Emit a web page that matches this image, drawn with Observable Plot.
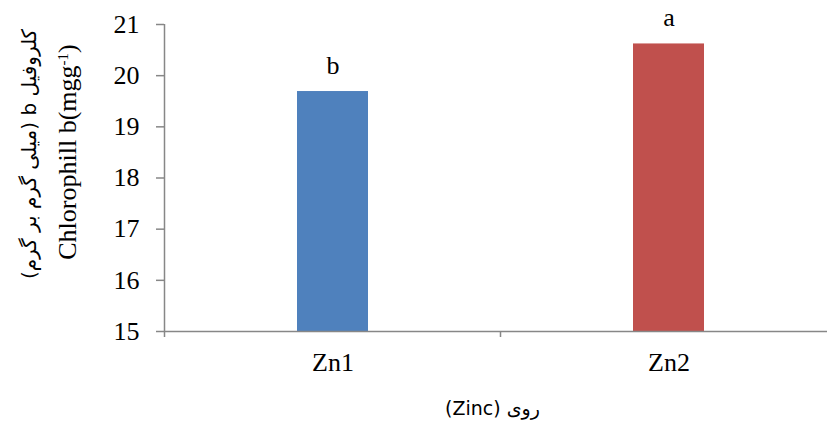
<!DOCTYPE html>
<html>
<head>
<meta charset="utf-8">
<script src="https://cdn.jsdelivr.net/npm/d3@7"></script>
<script src="https://cdn.jsdelivr.net/npm/@observablehq/plot@0.6"></script>
<style>
  html, body { margin: 0; padding: 0; background: #fff; overflow: hidden; }
</style>
</head>
<body>
<div id="chart"></div>
<script>
const categories = ["Zn1", "Zn2"];
const values = [19.69, 20.62];
const letters = ["b", "a"];
const barColors = ["#4F81BD", "#C0504D"];
const yTicks = [15, 16, 17, 18, 19, 20, 21];
const yLabelFa = "کلروفیل b (میلی گرم بر گرم)";
const yLabelEn = "Chlorophill b(mgg";
const yLabelSup = "-1";
const xLabel = "روی (Zinc)";

const data = categories.map((c, i) => ({cat: c, value: values[i], letter: letters[i]}));
const axisGray = "#878787";
const serif = "'Liberation Serif', 'Times New Roman', serif";
const fs = 26;

const chart = Plot.plot({
  width: 827,
  height: 421,
  marginLeft: 164,
  marginRight: 0,
  marginTop: 24,
  marginBottom: 90,
  style: {fontFamily: serif, fontSize: fs + "px", color: "#000", background: "#fff", overflow: "visible"},
  x: {domain: categories, range: [164, 836], paddingInner: 0.79, paddingOuter: 0.395, label: null},
  y: {domain: [15, 21], label: null},
  color: {domain: categories, range: barColors},
  marks: [
    Plot.barY(data, {x: "cat", y1: 15, y2: "value", fill: "cat"}),
    Plot.ruleY([15], {stroke: axisGray, strokeWidth: 1.5}),
    Plot.axisY({ticks: yTicks, tickFormat: () => "", tickSize: 8, stroke: axisGray, strokeWidth: 1.5, label: null}),
    Plot.text(yTicks, {y: d => d, text: d => String(d), frameAnchor: "left", dx: -25, textAnchor: "end", lineAnchor: "middle", fontSize: fs, fontFamily: serif, fill: "#000"}),
    Plot.axisX({tickSize: 0, tickPadding: 21, fill: "#000", fontSize: fs, fontFamily: serif, label: null}),
    Plot.text(data, {x: "cat", y: "value", text: "letter", dy: -18, lineAnchor: "bottom", fontSize: fs, fontFamily: serif, fill: "#000"})
  ]
});

document.getElementById("chart").appendChild(chart);

// Axis line and category-boundary ticks drawn from the chart's own scales
const sx = chart.scale("x");
const sy = chart.scale("y");
const svg = d3.select(chart);
const bw = sx.bandwidth || 0;
const c0 = sx.apply(categories[0]) + bw / 2;
const c1 = sx.apply(categories[1]) + bw / 2;
const step = c1 - c0;
const xLeft = c0 - step / 2;
const y15 = sy.apply(15), y21 = sy.apply(21);

svg.append("line")
  .attr("x1", xLeft).attr("x2", xLeft)
  .attr("y1", y21).attr("y2", y15 + 6)
  .attr("stroke", axisGray).attr("stroke-width", 1.5);
for (let i = 1; i <= categories.length; i++) {
  const bx = xLeft + i * step;
  svg.append("line")
    .attr("x1", bx).attr("x2", bx)
    .attr("y1", y15).attr("y2", y15 + 6)
    .attr("stroke", axisGray).attr("stroke-width", 1.5);
}

// Y axis title (two lines)
svg.append("text")
  .attr("transform", "translate(36,154) rotate(-90)")
  .attr("text-anchor", "middle")
  .attr("direction", "rtl")
  .attr("font-family", "'DejaVu Sans', sans-serif")
  .attr("font-size", 20)
  .attr("fill", "#000")
  .text(yLabelFa);

const en = svg.append("text")
  .attr("transform", "translate(76,152) rotate(-90)")
  .attr("text-anchor", "middle")
  .attr("font-family", serif)
  .attr("font-size", fs)
  .attr("fill", "#000");
en.append("tspan").text(yLabelEn);
en.append("tspan").attr("baseline-shift", "super").attr("font-size", 15).text(yLabelSup);
en.append("tspan").text(")");

// X axis title
svg.append("text")
  .attr("x", (xLeft + xLeft + categories.length * step) / 2 - 8)
  .attr("y", 415)
  .attr("text-anchor", "middle")
  .attr("direction", "rtl")
  .attr("font-family", "'DejaVu Sans', sans-serif")
  .attr("font-size", 19)
  .attr("fill", "#000")
  .text(xLabel);
</script>
</body>
</html>
